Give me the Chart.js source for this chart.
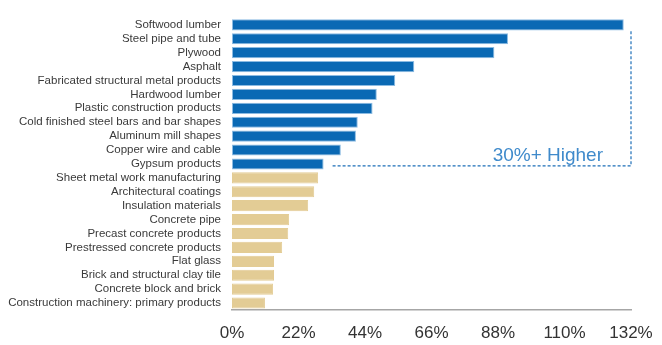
<!DOCTYPE html>
<html><head><meta charset="utf-8">
<script src="https://cdn.jsdelivr.net/npm/chart.js@4/dist/chart.umd.min.js"></script>
<style>html,body{margin:0;padding:0;background:#fff}#wrap{width:662px;height:345px;position:relative}</style>
</head><body><div id="wrap"><canvas id="c"></canvas></div>
<script>
const categories = ["Softwood lumber","Steel pipe and tube","Plywood","Asphalt","Fabricated structural metal products","Hardwood lumber","Plastic construction products","Cold finished steel bars and bar shapes","Aluminum mill shapes","Copper wire and cable","Gypsum products","Sheet metal work manufacturing","Architectural coatings","Insulation materials","Concrete pipe","Precast concrete products","Prestressed concrete products","Flat glass","Brick and structural clay tile","Concrete block and brick","Construction machinery: primary products"];
const values = [129.6,91.3,86.8,60.3,54.0,47.9,46.5,41.6,41.0,36.0,30.3,28.5,27.2,25.2,18.9,18.6,16.6,13.9,13.9,13.6,10.9];
const threshold = 30;
const tickValues = [0,22,44,66,88,110,132];
const annotationText = "30%+ Higher";

const BLUE = "#0a69b4", BLUE_EDGE = "#8bbbe2", BEIGE = "#e3cc95";

const annot = {
  id: "annot",
  afterDatasetsDraw(chart) {
    const {ctx, scales:{x,y}} = chart;
    const lastHigh = values.filter(v => v >= threshold).length - 1;
    const x0 = x.getPixelForValue(values[lastHigh]) + 9;
    const x1 = x.getPixelForValue(tickValues[tickValues.length-1]);
    const yb = y.getPixelForValue(lastHigh) + 2;
    const yt = y.getPixelForValue(0) + 6;
    ctx.save();
    ctx.strokeStyle = "#1d6fb8";
    ctx.lineWidth = 1.2;
    ctx.setLineDash([3,2]);
    ctx.beginPath();
    ctx.moveTo(x0, yb); ctx.lineTo(x1, yb); ctx.lineTo(x1, yt);
    ctx.stroke();
    ctx.setLineDash([]);
    ctx.fillStyle = "#3f8acb";
    ctx.font = "19px 'Liberation Sans', Arial, sans-serif";
    ctx.textAlign = "right";
    ctx.textBaseline = "alphabetic";
    ctx.fillText(annotationText, x1 - 28, yb - 5);
    ctx.restore();
  }
};

new Chart(document.getElementById("c"), {
  type: "bar",
  data: {
    labels: categories,
    datasets: [{
      data: values,
      backgroundColor: ctx => values[ctx.dataIndex] >= threshold ? BLUE : BEIGE,
      borderColor: ctx => values[ctx.dataIndex] >= threshold ? BLUE_EDGE : BEIGE,
      borderWidth: 1,
      borderSkipped: false,
      categoryPercentage: 0.8,
      barPercentage: 1.0
    }]
  },
  options: {
    indexAxis: "y",
    responsive: true,
    maintainAspectRatio: false,
    animation: false,
    layout: { padding: { top: 15, right: 0, bottom: 0, left: 0 } },
    plugins: { legend: { display: false }, tooltip: { enabled: false } },
    scales: {
      x: {
        min: 0, max: 132,
        afterBuildTicks: s => { s.ticks = tickValues.map(v => ({value: v})); },
        afterFit: s => { s.height = 35; s.paddingRight = 31; },
        grid: { display: false, drawTicks: false },
        border: { display: true, color: "#a6a6a6", width: 1.5 },
        ticks: {
          padding: 13,
          color: "#333",
          font: { family: "'Liberation Sans', Arial, sans-serif", size: 17 },
          callback: v => v + "%",
          maxRotation: 0
        }
      },
      y: {
        grid: { display: false, drawTicks: false },
        border: { display: false },
        afterFit: s => { s.width = 232; },
        ticks: {
          padding: 11,
          color: "#3a3a3a",
          autoSkip: false,
          font: { family: "'Liberation Sans', Arial, sans-serif", size: 11.5 }
        }
      }
    }
  },
  plugins: [annot]
});
</script></body></html>
